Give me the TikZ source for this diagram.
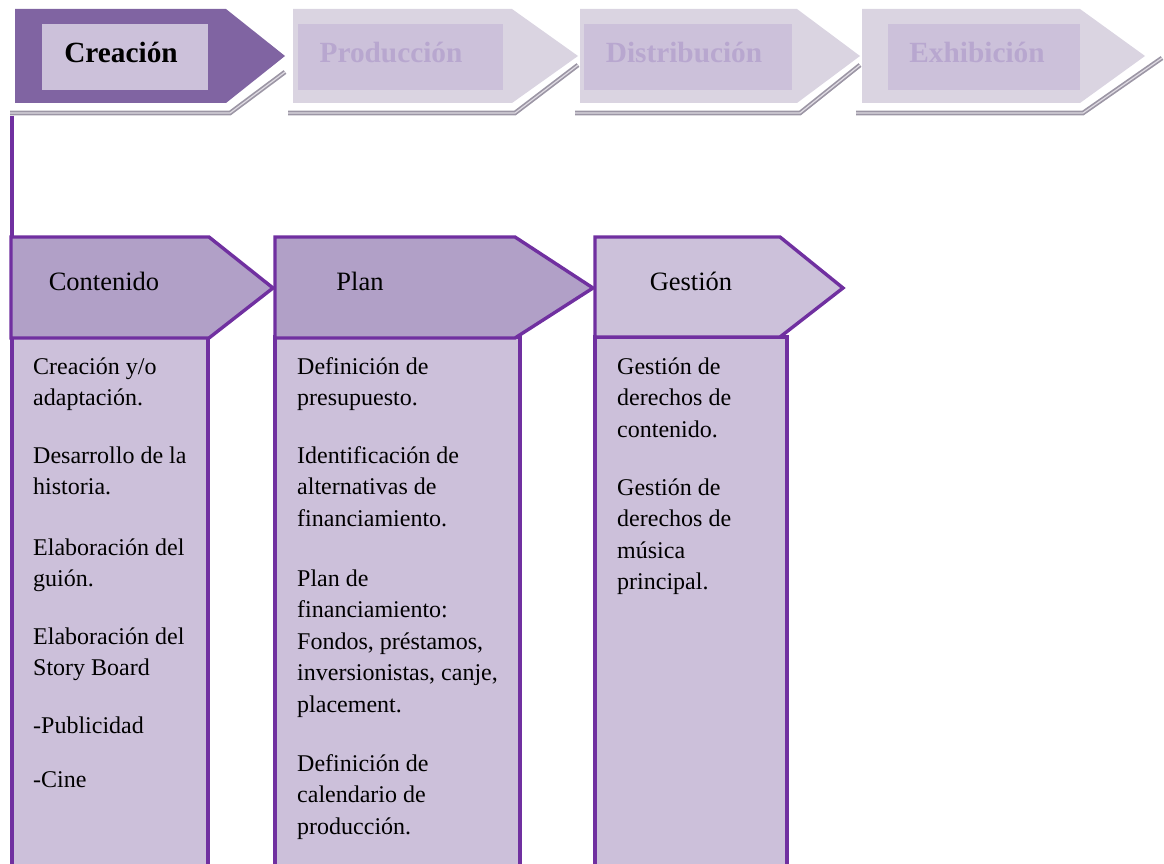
\documentclass[tikz,border=0pt]{standalone}
\usepackage{fontspec}
\setmainfont{Liberation Serif}
\usepackage{tikz}
\definecolor{chevdark}{HTML}{8064A2}
\definecolor{chevinner}{HTML}{CCC1DA}
\definecolor{chevpale}{HTML}{DAD4E1}
\definecolor{fadetext}{HTML}{B8A7CF}
\definecolor{headfill}{HTML}{B1A0C7}
\definecolor{bodyfill}{HTML}{CCC0DA}
\definecolor{framepurple}{HTML}{7030A0}
\definecolor{shadowgray}{HTML}{9C96A5}
\definecolor{shadowlight}{HTML}{DEDAE2}
\tikzset{
  chevshadow/.style={draw=shadowgray, line width=1.7pt, double=shadowlight, double distance=1.2pt},
  framebox/.style={draw=framepurple, line width=3.4pt, line join=miter},
  stagetitle/.style={anchor=base, inner sep=0pt, font=\fontsize{29.3pt}{30pt}\selectfont\bfseries},
  headtitle/.style={anchor=base, inner sep=0pt, font=\fontsize{26.5pt}{30pt}\selectfont},
  bodytext/.style={anchor=base west, align=left, inner sep=0pt, font=\fontsize{24pt}{31.5pt}\selectfont},
  link/.style={draw=framepurple, line width=3.4pt}
}

\begin{document}
\begin{tikzpicture}[x=1pt, y=-1pt]%
\useasboundingbox (0,0) rectangle (1164,864);%
% etapas de arriba
\draw[chevshadow] (10,113) -- (230,113) -- (285,72);%
\draw[chevshadow] (288,113) -- (515,113) -- (578,65);%
\draw[chevshadow] (575,113) -- (800,113) -- (860,65);%
\draw[chevshadow] (856,113) -- (1083,113) -- (1162,58);%
\fill[chevdark] (15,9) -- (226,9) -- (285,56) -- (226,103) -- (15,103) -- cycle;%
\fill[chevinner] (42,24) rectangle (208,90);%
\node[stagetitle] (creacion) at (121,63) {Creación};%
\fill[chevpale] (293,9) -- (512,9) -- (578,56) -- (512,103) -- (293,103) -- cycle;%
\fill[chevinner] (298,24) rectangle (503,90);%
\node[stagetitle, text=fadetext] (produccion) at (391,63) {Producción};%
\fill[chevpale] (580,9) -- (797,9) -- (860,56) -- (797,103) -- (580,103) -- cycle;%
\fill[chevinner] (584,24) rectangle (792,90);%
\node[stagetitle, text=fadetext] (distribucion) at (684,63) {Distribución};%
\fill[chevpale] (862,9) -- (1080,9) -- (1145,56) -- (1080,103) -- (862,103) -- cycle;%
\fill[chevinner] (888,24) rectangle (1080,90);%
\node[stagetitle, text=fadetext] (exhibicion) at (977,63) {Exhibición};%
% columnas
\draw[framebox, fill=bodyfill] (12,337) rectangle (208,880);%
\draw[framebox, fill=bodyfill] (275,337) rectangle (520,880);%
\draw[framebox, fill=bodyfill] (595,337) rectangle (787,880);%
\draw[framebox, fill=headfill] (11,237) -- (209,237) -- (273,288) -- (209,338) -- (11,338) -- cycle;%
\draw[framebox, fill=headfill] (275,237) -- (515,237) -- (593,288) -- (515,338) -- (275,338) -- cycle;%
\draw[framebox, fill=chevinner] (595,237) -- (780,237) -- (843,288) -- (780,337) -- (595,337) -- cycle;%
\node[headtitle] (contenido) at (104,290) {Contenido};%
\node[headtitle] (plan) at (360,290) {Plan};%
\node[headtitle] (gestion) at (691,290) {Gestión};%
% enlace
\coordinate (creafoot) at (12,116);%
\coordinate (conthead) at (12,237);%
\draw[link] (creafoot) -- (conthead);%
% textos (ancla en la ultima linea)
\node[bodytext] (cont1) at (33,405.5) {Creación y/o\\adaptación.};%
\node[bodytext] (cont2) at (33,494.5) {Desarrollo de la\\historia.};%
\node[bodytext] (cont3) at (33,586.5) {Elaboración del\\guión.};%
\node[bodytext] (cont4) at (33,675.5) {Elaboración del\\Story Board};%
\node[bodytext] (cont5) at (33,733) {-Publicidad};%
\node[bodytext] (cont6) at (33,787) {-Cine};%
\node[bodytext] (plan1) at (297,405.5) {Definición de\\presupuesto.};%
\node[bodytext] (plan2) at (297,526) {Identificación de\\alternativas de\\financiamiento.};%
\node[bodytext] (plan3) at (297,712) {Plan de\\financiamiento:\\Fondos, préstamos,\\inversionistas, canje,\\placement.};%
\node[bodytext] (plan4) at (297,834) {Definición de\\calendario de\\producción.};%
\node[bodytext] (gest1) at (617,437) {Gestión de\\derechos de\\contenido.};%
\node[bodytext] (gest2) at (617,589.5) {Gestión de\\derechos de\\música\\principal.};%
\end{tikzpicture}
\end{document}
